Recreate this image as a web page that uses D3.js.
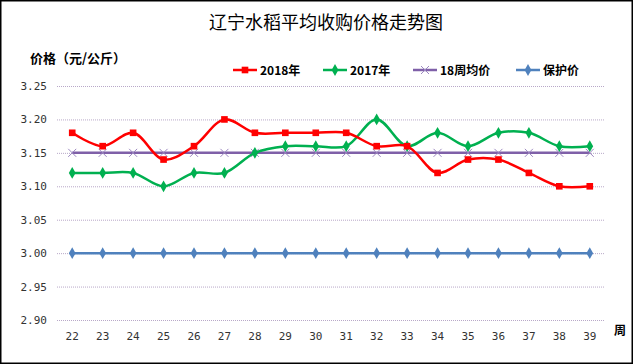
<!DOCTYPE html>
<html><head><meta charset="utf-8">
<script src="https://cdn.jsdelivr.net/npm/d3@7"></script>
<style>body{margin:0;background:#fff}svg{display:block}</style>
</head><body><svg id="c" width="633" height="364"></svg>
<script>
const weeks = ["22","23","24","25","26","27","28","29","30","31","32","33","34","35","36","37","38","39"];
const s2018 = [3.18,3.16,3.18,3.14,3.16,3.20,3.18,3.18,3.18,3.18,3.16,3.16,3.12,3.14,3.14,3.12,3.10,3.10];
const s2017 = [3.12,3.12,3.12,3.10,3.12,3.12,3.15,3.16,3.16,3.16,3.20,3.16,3.18,3.16,3.18,3.18,3.16,3.16];
const avg18 = [3.15,3.15,3.15,3.15,3.15,3.15,3.15,3.15,3.15,3.15,3.15,3.15,3.15,3.15,3.15,3.15,3.15,3.15];
const floorPrice = [3.00,3.00,3.00,3.00,3.00,3.00,3.00,3.00,3.00,3.00,3.00,3.00,3.00,3.00,3.00,3.00,3.00,3.00];
const yTicks = [2.90,2.95,3.00,3.05,3.10,3.15,3.20,3.25];

const svg = d3.select("#c");
const cjk = "'Noto Sans CJK SC', sans-serif";
svg.append("rect").attr("x",0.75).attr("y",0.75).attr("width",631.5).attr("height",362.5)
  .attr("fill","#fff").attr("stroke","#000").attr("stroke-width",1.5);

const x = d3.scaleBand().domain(weeks).range([57,605]);
const y = d3.scaleLinear().domain([2.90,3.25]).range([320,86]);

// grid
svg.append("g").selectAll("line").data(yTicks).join("line")
  .attr("x1",57).attr("x2",605).attr("y1",d=>y(d)+0.5).attr("y2",d=>y(d)+0.5)
  .attr("stroke","#b8a8c8").attr("stroke-width",1).attr("stroke-dasharray","1,1");

// y axis labels
const yAxis = d3.axisLeft(y).tickValues(yTicks).tickSize(0).tickPadding(10)
  .tickFormat(d3.format(".2f"));
const ya = svg.append("g").attr("transform","translate(57,0)").call(yAxis);
ya.select(".domain").remove();
ya.selectAll("text").attr("font-family","'DejaVu Sans Mono', monospace").attr("font-size",11).attr("fill","#333");

// x axis labels
const xAxis = d3.axisBottom(x).tickSize(0).tickPadding(10);
const xa = svg.append("g").attr("transform","translate(0,327)").call(xAxis);
xa.select(".domain").remove();
xa.selectAll("text").attr("font-family","'DejaVu Sans Mono', monospace").attr("font-size",11).attr("fill","#333").attr("dy","0.3em");

svg.append("text").attr("x",620).attr("y",335).attr("text-anchor","middle").attr("font-family",cjk)
  .attr("font-weight","bold").attr("font-size",12).text("周");

// title
svg.append("text").attr("x",326).attr("y",29).attr("text-anchor","middle").attr("font-family",cjk)
  .attr("font-size",18).attr("fill","#000").text("辽宁水稻平均收购价格走势图");
svg.append("text").attr("x",30).attr("y",63).attr("font-family",cjk).attr("font-weight","bold")
  .attr("font-size",13).text("价格（元/公斤）");

const cx = d => x(d)+x.bandwidth()/2;
const series = [
  {name:"2018年", data:s2018, color:"#ff0000", sym:d3.symbolSquare, size:44, curve:true},
  {name:"2017年", data:s2017, color:"#00b050", sym:d3.symbolDiamond, size:40, curve:true},
  {name:"18周均价", data:avg18, color:"#7f60a8", sym:"x", size:0, curve:false},
  {name:"保护价", data:floorPrice, color:"#4f81bd", sym:d3.symbolDiamond, size:40, curve:false}
];

[3,2,1,0].forEach(i=>{
  const s = series[i];
  const line = d3.line().x((d,j)=>cx(weeks[j])).y(d=>y(d))
    .curve(s.curve ? d3.curveCatmullRom.alpha(0.5) : d3.curveLinear);
  const g = svg.append("g");
  g.append("path").datum(s.data).attr("d",line).attr("fill","none").attr("stroke",s.color).attr("stroke-width",2.5);
  if (s.sym === "x") {
    g.selectAll("path.m").data(s.data).join("path").attr("class","m")
      .attr("d",(d,j)=>{const px=cx(weeks[j]),py=y(d),r=4;return `M${px-r},${py-r}L${px+r},${py+r}M${px-r},${py+r}L${px+r},${py-r}`;})
      .attr("stroke","#9c88c0").attr("stroke-width",1).attr("fill","none");
  } else {
    g.selectAll("path.m").data(s.data).join("path").attr("class","m")
      .attr("transform",(d,j)=>`translate(${cx(weeks[j])},${y(d)})`)
      .attr("d",d3.symbol().type(s.sym).size(s.size)).attr("fill",s.color);
  }
});

// legend
const legX = [233,323,413,516];
series.forEach((s,i)=>{
  const g = svg.append("g").attr("transform",`translate(${legX[i]},70)`);
  g.append("line").attr("x1",0).attr("x2",24).attr("y1",0).attr("y2",0).attr("stroke",s.color).attr("stroke-width",2.5);
  if (s.sym === "x") {
    g.append("path").attr("d","M8,-4L16,4M8,4L16,-4").attr("stroke","#9c88c0").attr("stroke-width",1);
  } else {
    g.append("path").attr("transform","translate(12,0)").attr("d",d3.symbol().type(s.sym).size(s.size)).attr("fill",s.color);
  }
  g.append("text").attr("x",27).attr("y",4.5).attr("font-family",cjk).attr("font-weight","bold")
    .attr("font-size",12).text(s.name);
});
</script></body></html>
